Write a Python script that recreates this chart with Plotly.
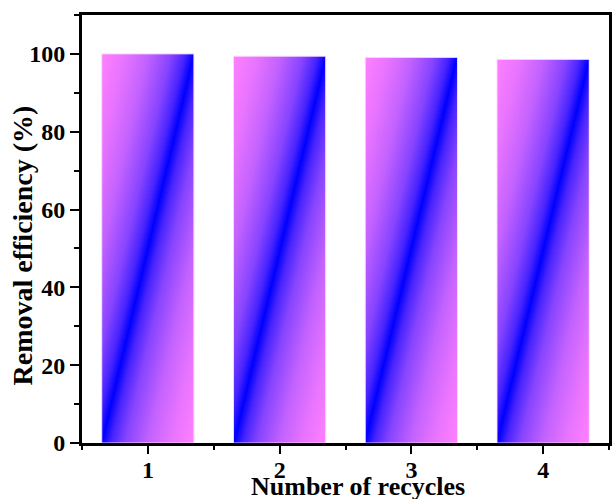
import numpy as np
import plotly.graph_objects as go

# Recycling test: removal efficiency per cycle
cycles = ["1", "2", "3", "4"]
efficiency = [100.0, 99.4, 99.1, 98.6]

BAR_WIDTH = 0.7
NX, NY = 92, 300
FONT = "Liberation Serif"

# Blue on the diagonal, easing quickly toward pink at the far corners
GRADIENT = [
    [0.00, "rgb(0,0,255)"],
    [0.10, "rgb(72,36,255)"],
    [0.25, "rgb(135,68,255)"],
    [0.50, "rgb(195,98,255)"],
    [0.75, "rgb(232,116,255)"],
    [1.00, "rgb(255,128,255)"],
]

fig = go.Figure()

positions = list(range(1, len(cycles) + 1))

# Each bar is filled with a reflected diagonal gradient (blue along the
# bottom-left -> top-right diagonal, pink toward the other two corners),
# rendered as a heatmap that spans the bar's own extent.
for pos, val in zip(positions, efficiency):
    x_edges = np.linspace(pos - BAR_WIDTH / 2, pos + BAR_WIDTH / 2, NX + 1)
    y_edges = np.linspace(0, val, NY + 1)
    u = (np.arange(NX) + 0.5) / NX
    v = (np.arange(NY) + 0.5) / NY
    z = np.abs(u[None, :] - v[:, None])
    fig.add_trace(go.Heatmap(
        x=x_edges, y=y_edges, z=z,
        zmin=0, zmax=1,
        colorscale=GRADIENT,
        showscale=False, hoverinfo="skip", zsmooth=False,
    ))

# Thin pale outline on top of the gradient fills
fig.add_trace(go.Bar(
    x=positions, y=efficiency, width=BAR_WIDTH,
    marker=dict(color="rgba(0,0,0,0)",
                line=dict(color="rgba(255,215,255,0.9)", width=1)),
    hovertemplate="Cycle %{x}: %{y:.1f}%<extra></extra>",
))

tick_font = dict(family=FONT, size=24, color="black", weight="bold")

fig.update_layout(
    width=614, height=499,
    margin=dict(l=82, r=2, t=15, b=56),
    paper_bgcolor="white", plot_bgcolor="white",
    showlegend=False,
    xaxis=dict(
        range=[0.5, 4.5],
        tickmode="array", tickvals=positions, ticktext=cycles,
        ticks="outside", ticklen=8, tickwidth=2, tickcolor="black",
        minor=dict(tickmode="linear", tick0=0.5, dtick=0.5, ticks="outside",
                   ticklen=4, tickwidth=2, tickcolor="black"),
        showline=True, linewidth=3, linecolor="black", mirror=True,
        showgrid=False, zeroline=False,
        tickfont=tick_font, ticklabelstandoff=-5,
    ),
    yaxis=dict(
        range=[0, 110],
        tickmode="linear", tick0=0, dtick=20,
        ticks="outside", ticklen=9, tickwidth=2, tickcolor="black",
        minor=dict(tickmode="linear", tick0=0, dtick=10, ticks="outside",
                   ticklen=5, tickwidth=2, tickcolor="black"),
        showline=True, linewidth=3, linecolor="black", mirror=True,
        showgrid=False, zeroline=False,
        tickfont=tick_font,
    ),
    annotations=[
        dict(text="Removal efficiency (%)", textangle=-90,
             xref="paper", yref="paper", x=-0.113, y=0.4626,
             xanchor="center", yanchor="middle", showarrow=False,
             font=dict(family=FONT, size=28, color="black", weight="bold")),
        dict(text="Number of recycles",
             xref="paper", yref="paper", x=0.5245, y=-0.101,
             xanchor="center", yanchor="middle", showarrow=False,
             font=dict(family=FONT, size=26, color="black", weight="bold")),
    ],
)

fig.write_html("out.html")
